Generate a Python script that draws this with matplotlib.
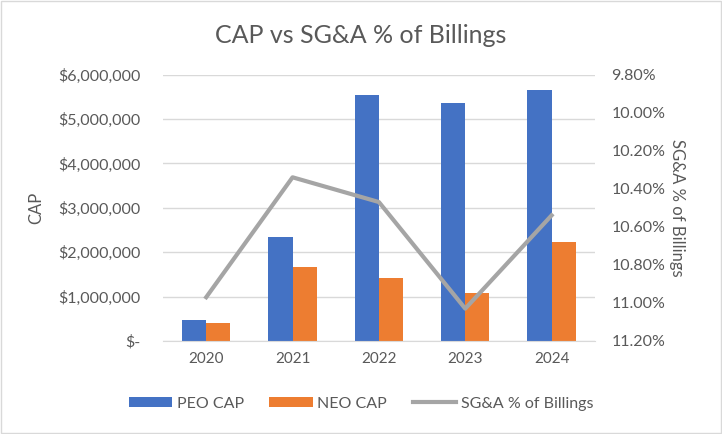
import matplotlib
matplotlib.use("Agg")
import matplotlib.pyplot as plt
import numpy as np
from matplotlib.ticker import FuncFormatter

plt.rcParams['font.family'] = ['Lato', 'DejaVu Sans']

years = ["2020", "2021", "2022", "2023", "2024"]
peo_cap = [470000, 2340000, 5550000, 5350000, 5650000]
neo_cap = [410000, 1660000, 1420000, 1080000, 2230000]
sga_pct = [10.97, 10.34, 10.47, 11.03, 10.54]

grey_txt = "#595959"
fig = plt.figure(figsize=(7.22, 4.34), dpi=100)
ax = fig.add_axes([0.2258, 0.2143, 0.598, 0.614])

x = np.arange(len(years))
w = 0.28
b1 = ax.bar(x - w / 2, peo_cap, w, color="#4472C4", label="PEO CAP", zorder=2)
b2 = ax.bar(x + w / 2, neo_cap, w, color="#ED7D31", label="NEO CAP", zorder=2)

ax.set_ylim(0, 6000000)
ax.set_yticks(np.arange(0, 6000001, 1000000))
ax.yaxis.set_major_formatter(FuncFormatter(lambda v, p: "$-" if v == 0 else f"${v:,.0f}"))
ax.set_xlim(-0.5, 4.5)
ax.set_xticks(x)
ax.set_xticklabels(years)
ax.grid(axis="y", color="#D9D9D9", lw=1, zorder=0)
for s in ["top", "left", "right"]:
    ax.spines[s].set_visible(False)
ax.spines["bottom"].set_color("#D9D9D9")
ax.tick_params(axis="y", length=0, colors=grey_txt, labelsize=11.5, pad=16)
ax.tick_params(axis="x", length=0, colors=grey_txt, labelsize=11, pad=8)
ax.set_ylabel("CAP", color=grey_txt, fontsize=12, labelpad=10)

ax2 = ax.twinx()
l1, = ax2.plot(x, sga_pct, color="#A5A5A5", lw=3, label="SG&A % of Billings", zorder=3)
ax2.set_ylim(11.2, 9.8)
ax2.set_yticks(np.arange(9.8, 11.21, 0.2))
ax2.yaxis.set_major_formatter(FuncFormatter(lambda v, p: f"{v:.2f}%"))
for s in ax2.spines.values():
    s.set_visible(False)
ax2.tick_params(length=0, colors=grey_txt, labelsize=11.5, pad=12)
ax2.set_ylabel("SG&A % of Billings", color=grey_txt, fontsize=12, rotation=-90, labelpad=14)

fig.suptitle("CAP vs SG&A % of Billings", x=0.5, y=0.945, fontsize=18, color=grey_txt)

fig.legend(handles=[b1, b2, l1], loc="center", bbox_to_anchor=(0.5, 0.07), ncol=3,
           frameon=False, fontsize=11.5, labelcolor=grey_txt, handlelength=2.7,
           handleheight=0.55, columnspacing=1.6, handletextpad=0.3)

fig.patches.append(plt.Rectangle((0.001, 0.002), 0.997, 0.996, transform=fig.transFigure,
                                 fill=False, edgecolor="#D9D9D9", lw=1))

fig.savefig("out.png", dpi=100)
